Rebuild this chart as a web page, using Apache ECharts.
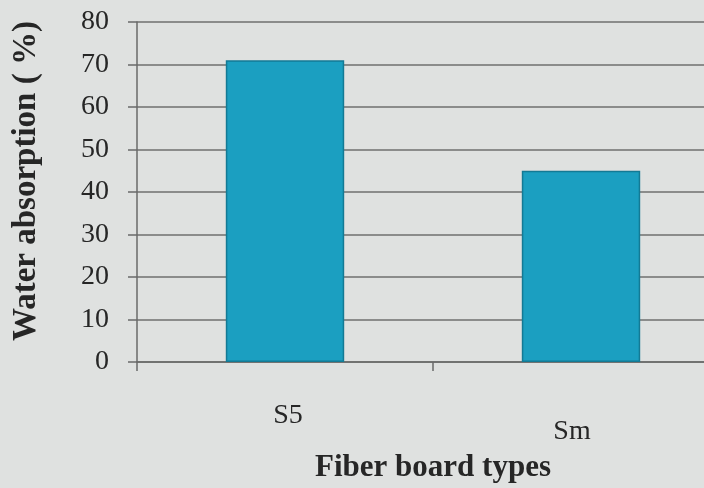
<!DOCTYPE html>
<html>
<head>
<meta charset="utf-8">
<script src="https://cdn.jsdelivr.net/npm/echarts@6/dist/echarts.min.js"></script>
<style>
  html, body { margin: 0; padding: 0; background: #dfe1e0; }
  #chart { width: 704px; height: 488px; }
</style>
</head>
<body>
<div id="chart"></div>
<script>
// Water absorption of two fibre board types
const boardTypes = ['S5', 'Sm'];
const absorption = [71, 45];
const yTicks = { min: 0, max: 80, step: 10 };

const serif = '"Liberation Serif", "DejaVu Serif", serif';
const ink = '#262626';

const chart = echarts.init(document.getElementById('chart'), null, { renderer: 'canvas' });

chart.setOption({
  backgroundColor: '#dfe1e0',
  animation: false,
  grid: { left: 137, top: 22, height: 340, width: 592, containLabel: false, outerBoundsMode: 'none' },
  xAxis: {
    type: 'category',
    data: boardTypes.map((name, i) => ({
      value: name,
      textStyle: { padding: i === 1 ? [16, 18, 0, 0] : [0, 0, 0, 6] }
    })),
    name: 'Fiber board types',
    nameLocation: 'middle',
    nameGap: 90,
    nameTextStyle: { fontFamily: serif, fontWeight: 'bold', fontSize: 31, color: ink },
    axisLine: { lineStyle: { color: '#6a6a6a', width: 1.5 } },
    axisTick: { show: true, length: 9, lineStyle: { color: '#6a6a6a', width: 1.5 } },
    axisLabel: { fontFamily: serif, fontSize: 28, color: ink, margin: 40 }
  },
  yAxis: {
    type: 'value',
    min: yTicks.min,
    max: yTicks.max,
    interval: yTicks.step,
    name: 'Water absorption ( %)',
    nameLocation: 'middle',
    nameGap: 94,
    nameRotate: 90,
    nameTextStyle: { fontFamily: serif, fontWeight: 'bold', fontSize: 33, color: ink, padding: [0, 0, 0, 22] },
    axisLine: { show: true, lineStyle: { color: '#6a6a6a', width: 1.5 } },
    axisTick: { show: true, length: 9, lineStyle: { color: '#6a6a6a', width: 1.5 } },
    axisLabel: { fontFamily: serif, fontSize: 28, color: ink, margin: 28 },
    splitLine: { lineStyle: { color: '#6f6f6f', width: 1.5 } }
  },
  series: [{
    type: 'bar',
    data: absorption,
    barWidth: '40%',
    itemStyle: { color: '#1b9fc1', borderColor: '#137a95', borderWidth: 1.5 }
  }]
});
</script>
</body>
</html>
